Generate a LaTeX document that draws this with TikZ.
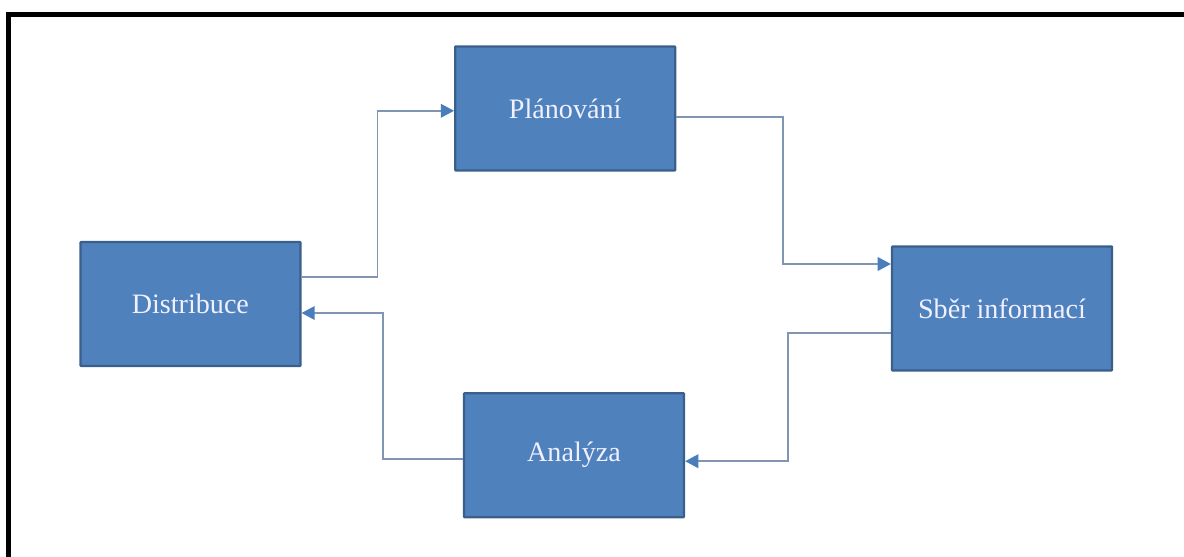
\documentclass[tikz,border=0pt]{standalone}
\usepackage{fontspec}
\setmainfont{Liberation Serif}
\usetikzlibrary{arrows.meta}
\definecolor{boxblue}{HTML}{4F81BD}
\definecolor{boxedge}{HTML}{3A5F8B}
\definecolor{linkgray}{HTML}{8094B4}
\definecolor{tipblue}{HTML}{4A7EBB}

\begin{document}
\begin{tikzpicture}[font=\fontsize{20}{24}\selectfont,
  stage/.style={draw=boxedge,line width=1.6pt,fill=boxblue,text=white!94!blue,
    minimum width=5.5cm,minimum height=3.1cm,inner sep=0pt,rounded corners=0.5pt},
  flow/.style={linkgray,line width=1.2pt,-{Triangle[length=0.33cm,width=0.34cm,color=tipblue]}}]
\useasboundingbox (0,0) rectangle (29.6,13.9);
% frame, only top and left
\draw[line width=3.6pt,line cap=rect] (0.2125,0) -- (0.2125,13.54) -- (29.6,13.54);
\node[stage] (dist) at (4.76,6.3) {Distribuce};
\node[stage] (plan) at (14.13,11.19) {Plánování};
\node[stage] (sber) at (25.05,6.19) {Sběr informací};
\node[stage] (anal) at (14.35,2.52) {Analýza};
% cycle
\draw[flow] ([yshift=.675cm]dist.east) -- ++(1.9,0) |- ([yshift=-.06cm]plan.west);
\draw[flow] ([yshift=-.21cm]plan.east) -- ++(2.675,0) |- ([yshift=1.11cm]sber.west);
\draw[flow] ([yshift=-.61cm]sber.west) -- ++(-2.575,0) |- ([yshift=-.15cm]anal.east);
\draw[flow] ([yshift=-.1cm]anal.west) -- ++(-2.0,0) |- ([yshift=-.225cm]dist.east);
\end{tikzpicture}
\end{document}
